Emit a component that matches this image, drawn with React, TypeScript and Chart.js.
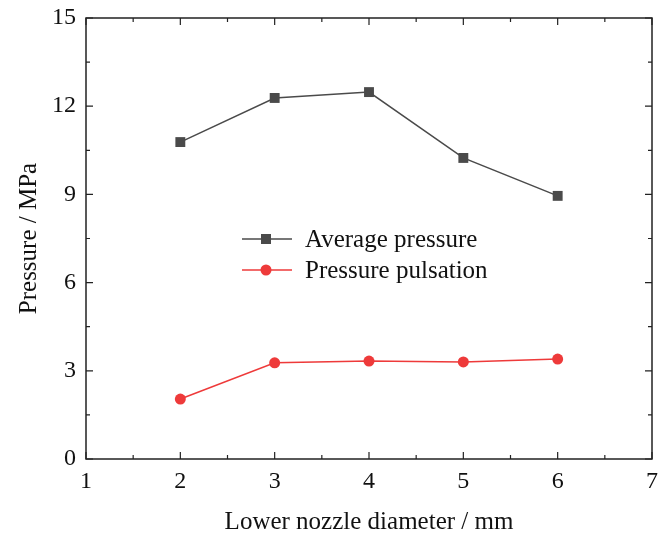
import React, { useEffect, useRef } from "react";
import { Chart, registerables } from "chart.js";

Chart.register(...registerables);

const diameters = [2, 3, 4, 5, 6];
const averagePressure = [10.78, 12.28, 12.48, 10.24, 8.95];
const pressurePulsation = [2.04, 3.27, 3.33, 3.30, 3.40];
const xTicks = [1, 2, 3, 4, 5, 6, 7];
const yTicks = [0, 3, 6, 9, 12, 15];
const seriesNames = ["Average pressure", "Pressure pulsation"];
const xTitle = "Lower nozzle diameter / mm";
const yTitle = "Pressure / MPa";

const FONT = "'Liberation Serif', 'Times New Roman', serif";
const GREY = "#4a4a4a";
const RED = "#ee3a3a";

const framePlugin = {
  id: "frame",
  afterDraw(chart: any) {
    const { ctx, chartArea } = chart;
    const { left, right, top, bottom } = chartArea;
    const xs = chart.scales.x;
    const ys = chart.scales.y;
    ctx.save();
    ctx.strokeStyle = "#222";
    ctx.lineWidth = 1.5;
    ctx.strokeRect(left, top, right - left, bottom - top);
    ctx.lineWidth = 1.2;
    const major = 7;
    const minor = 4;
    for (let v = xTicks[0]; v <= xTicks[xTicks.length - 1] + 1e-9; v += 0.5) {
      const px = xs.getPixelForValue(v);
      const len = Math.abs(v - Math.round(v)) < 1e-9 ? major : minor;
      ctx.beginPath();
      ctx.moveTo(px, bottom);
      ctx.lineTo(px, bottom - len);
      ctx.moveTo(px, top);
      ctx.lineTo(px, top + len);
      ctx.stroke();
    }
    for (let v = yTicks[0]; v <= yTicks[yTicks.length - 1] + 1e-9; v += 1.5) {
      const py = ys.getPixelForValue(v);
      const isMajor = Math.abs(v / 3 - Math.round(v / 3)) < 1e-9;
      const len = isMajor ? major : minor;
      ctx.beginPath();
      ctx.moveTo(left, py);
      ctx.lineTo(left + len, py);
      ctx.moveTo(right, py);
      ctx.lineTo(right - len, py);
      ctx.stroke();
    }
    // legend
    const colors = [GREY, RED];
    const rows = [239, 270];
    ctx.font = `25px ${FONT}`;
    ctx.textBaseline = "middle";
    ctx.textAlign = "left";
    rows.forEach((ry, i) => {
      ctx.strokeStyle = colors[i];
      ctx.fillStyle = colors[i];
      ctx.lineWidth = 1.5;
      ctx.beginPath();
      ctx.moveTo(242, ry);
      ctx.lineTo(292, ry);
      ctx.stroke();
      if (i === 0) {
        ctx.fillRect(261, ry - 5, 10, 10);
      } else {
        ctx.beginPath();
        ctx.arc(266, ry, 5.5, 0, Math.PI * 2);
        ctx.fill();
      }
      ctx.fillStyle = "#111";
      ctx.fillText(seriesNames[i], 305, ry + 1);
    });
    ctx.restore();
  },
};

export default function App() {
  const ref = useRef<HTMLCanvasElement>(null);
  useEffect(() => {
    if (!ref.current) return;
    const chart = new Chart(ref.current, {
      type: "line",
      data: {
        datasets: [
          {
            label: seriesNames[0],
            data: diameters.map((d, i) => ({ x: d, y: averagePressure[i] })),
            borderColor: GREY,
            backgroundColor: GREY,
            borderWidth: 1.5,
            pointStyle: "rect",
            pointRadius: 7,
            pointBorderWidth: 0,
          },
          {
            label: seriesNames[1],
            data: diameters.map((d, i) => ({ x: d, y: pressurePulsation[i] })),
            borderColor: RED,
            backgroundColor: RED,
            borderWidth: 1.5,
            pointStyle: "circle",
            pointRadius: 5.5,
            pointBorderWidth: 0,
          },
        ],
      },
      options: {
        animation: false,
        responsive: false,
        layout: { padding: { top: 18, right: 17, left: 0, bottom: 0 } },
        plugins: { legend: { display: false }, tooltip: { enabled: false } },
        scales: {
          x: {
            type: "linear",
            min: 1,
            max: 7,
            afterBuildTicks: (s: any) => {
              s.ticks = xTicks.map((v) => ({ value: v }));
            },
            afterFit: (s: any) => {
              s.height = 78;
              s.paddingLeft = 0;
              s.paddingRight = 0;
            },
            grid: { display: false },
            border: { display: false },
            ticks: {
              color: "#111",
              font: { family: FONT, size: 24 },
              padding: 0,
              maxRotation: 0,
            },
            title: {
              display: true,
              text: xTitle,
              color: "#111",
              font: { family: FONT, size: 25 },
              padding: { top: 4, bottom: 0 },
            },
          },
          y: {
            type: "linear",
            min: 0,
            max: 15,
            afterBuildTicks: (s: any) => {
              s.ticks = yTicks.map((v) => ({ value: v }));
            },
            afterFit: (s: any) => {
              s.width = 86;
              s.paddingTop = 0;
              s.paddingBottom = 0;
            },
            grid: { display: false },
            border: { display: false },
            ticks: {
              color: "#111",
              font: { family: FONT, size: 24 },
              padding: 2,
            },
            title: {
              display: true,
              text: yTitle,
              color: "#111",
              font: { family: FONT, size: 25 },
              padding: { top: 14, bottom: 0 },
            },
          },
        },
      },
      plugins: [framePlugin],
    });
    return () => chart.destroy();
  }, []);
  return (
    <div style={{ position: "absolute", left: 0, top: 0, width: 669, height: 537, background: "#fff" }}>
      <canvas ref={ref} width={669} height={537} style={{ width: 669, height: 537 }} />
    </div>
  );
}
